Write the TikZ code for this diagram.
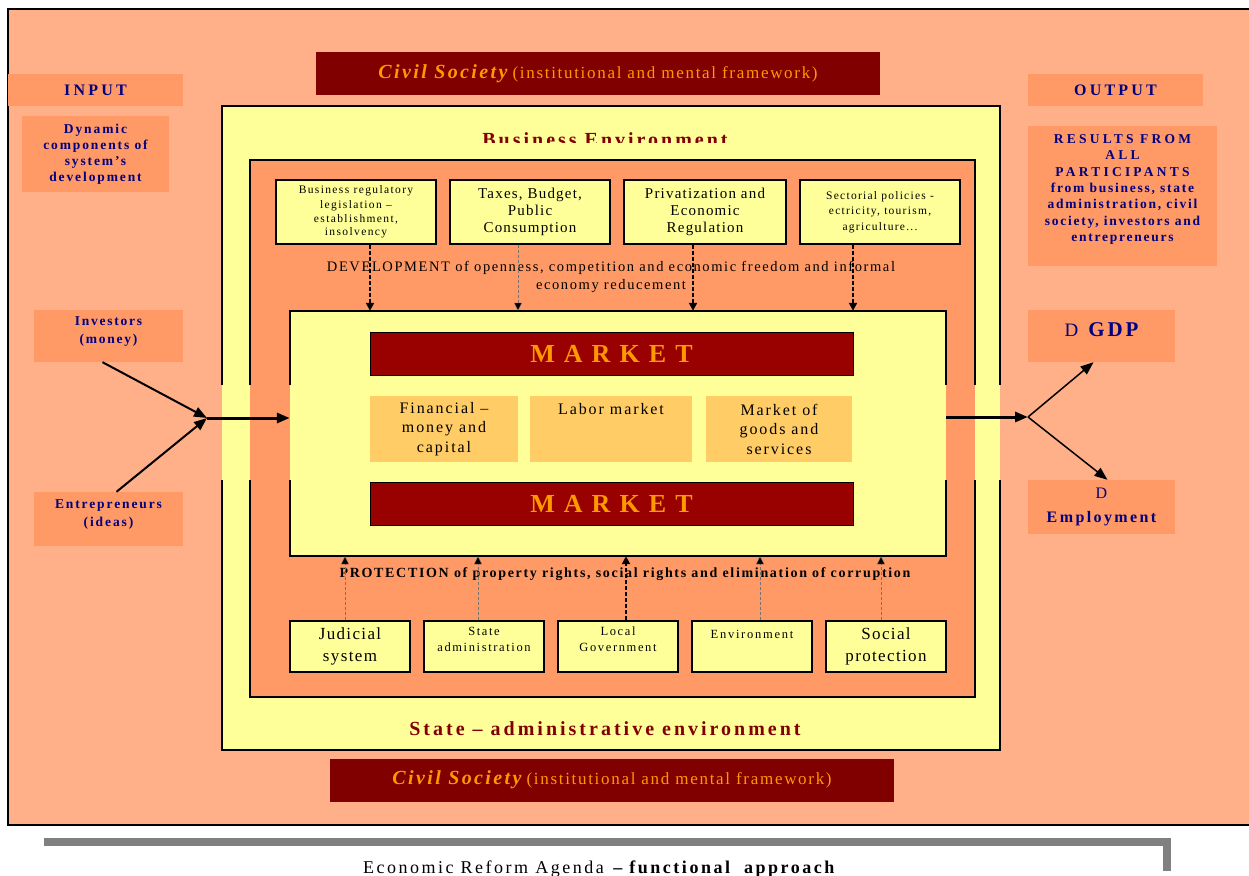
\documentclass[tikz,border=0pt]{standalone}
\usepackage{fontspec}
\setmainfont{Liberation Serif}
\usetikzlibrary{arrows.meta}

\definecolor{peach}{RGB}{255,176,136}
\definecolor{salmon}{RGB}{255,153,102}
\definecolor{paleyellow}{RGB}{255,255,153}
\definecolor{civilred}{RGB}{128,0,0}
\definecolor{marketred}{RGB}{153,0,0}
\definecolor{goldtext}{RGB}{255,153,0}
\definecolor{lightgold}{RGB}{255,204,102}
\definecolor{navytext}{RGB}{0,0,128}

\newcommand{\ls}[1]{\addfontfeatures{LetterSpace=#1}}
\newcommand{\fsz}[2]{\fontsize{#1}{#2}\selectfont}

\tikzset{
  frame/.style={line width=1.6pt},
  sidebox/.style={fill=salmon, text=navytext, align=center, inner sep=0pt},
  civilbar/.style={fill=civilred, text=goldtext, minimum width=564pt, minimum height=43pt, inner sep=0pt},
  envtitle/.style={text=civilred, font=\bfseries\fsz{20}{22}\ls{15}},
  topbox/.style={draw, line width=1.3pt, fill=paleyellow, align=center, minimum height=64pt, inner sep=0pt},
  basebox/.style={draw, line width=1.3pt, fill=paleyellow, align=center, minimum width=120pt, minimum height=51pt, inner sep=0pt},
  marketbar/.style={draw, line width=0.8pt, fill=marketred, text=goldtext, minimum width=483pt, minimum height=43pt,
    font=\bfseries\fsz{26}{28}\ls{10}},
  subbox/.style={fill=lightgold, align=center, minimum height=66pt, inner sep=0pt, font=\fsz{16}{19.5}\ls{12}},
  strong/.style={line width=2.6pt, dash pattern=on 4pt off 2pt, -{Triangle[length=8pt,width=8pt]}},
  faint/.style={line width=0.4pt, draw=black!55, dash pattern=on 3pt off 2pt, -{Triangle[length=8pt,width=8pt,fill=black]}},
  flow/.style={line width=2pt, -{Triangle[length=13pt,width=10pt]}},
}

\begin{document}
\begin{tikzpicture}[x=1pt,y=-1pt]
  \useasboundingbox (0,0) rectangle (1249,875);
  \clip (0,0) rectangle (1249,875);

  % outer frame
  \fill[peach] (8,9) rectangle (1262,825);
  \draw[line width=2pt] (8,9) rectangle (1262,825);

  % caption
  \draw[line width=8pt, black!50] (44,842) -- (1167,842) -- (1167,871);
  \node[anchor=base, font=\fsz{18}{19}\ls{14}] (caption) at (600,873)
    {Economic Reform Agenda \textbf{– functional\ \ approach}};

  % civil society
  \node[civilbar] (civiltop) at (598,73.5)
    {{\bfseries\itshape\fsz{20}{22}\ls{12}Civil Society}\ \ {\fsz{17}{18}\ls{10}(institutional and mental framework)}};
  \node[civilbar] (civilbot) at (612,780)
    {{\bfseries\itshape\fsz{20}{22}\ls{12}Civil Society}\ \ {\fsz{17}{18}\ls{10}(institutional and mental framework)}};

  % business environment
  \fill[paleyellow] (222,106) rectangle (1000,750);
  \draw[frame] (222,385) |- (1000,106) -- (1000,385);
  \draw[frame] (222,480) |- (1000,750) -- (1000,480);
  \begin{scope}
    \clip (222,106) rectangle (1000,142);
    \node[envtitle, anchor=base] (bizenv) at (605,146) {Business Environment};
  \end{scope}

  % inner orange
  \fill[salmon] (250,160) rectangle (975,697);
  \draw[frame] (250,385) |- (975,160) -- (975,385);
  \draw[frame] (250,480) |- (975,697) -- (975,480);
  \node[envtitle, anchor=base] (stateenv) at (605,735) {State – administrative environment};

  % policy boxes
  \node[topbox, minimum width=160pt, font=\fsz{11.5}{13.5}\ls{12}] (regbox) at (356,212)
    {Business regulatory\\[1.5pt]legislation –\\establishment,\\insolvency};
  \node[topbox, minimum width=160pt, font=\fsz{15}{17}\ls{8}] (taxbox) at (530,212)
    {Taxes, Budget,\\Public\\Consumption};
  \node[topbox, minimum width=162pt, font=\fsz{15}{17}\ls{8}] (privbox) at (705,212)
    {Privatization and\\Economic\\Regulation};
  \node[topbox, minimum width=160pt, font=\fsz{11.5}{15.5}\ls{11}] (sectbox) at (880,212)
    {Sectorial policies -\\ectricity, tourism,\\agriculture...};

  \node[align=center, font=\fsz{14.5}{18}\ls{11}] (develop) at (611,277)
    {DEVELOPMENT of openness, competition and economic freedom and informal\\economy reducement};

  % market
  \node[fill=paleyellow, minimum width=656pt, minimum height=245pt, inner sep=0pt] (market) at (618,433.5) {};
  \draw[frame] (290,385) |- (946,311) -- (946,385);
  \draw[frame] (290,480) |- (946,556) -- (946,480);
  \node[marketbar] (markettop) at (611.5,354) {M A R K E T};
  \node[marketbar] (marketbot) at (611.5,503.5) {M A R K E T};
  \node[subbox, minimum width=148pt] (finbox) at (444,429) {Financial –\\money and\\capital};
  \node[subbox, minimum width=162pt, text depth=40pt] (laborbox) at (611,429) {Labor market};
  \node[subbox, minimum width=146pt] (goodsbox) at (779,429) {Market of\\goods and\\services};

  \draw[strong] ([xshift=14pt]regbox.south) -- ([xshift=14pt]regbox.south |- market.north);
  \draw[faint] ([xshift=-12pt]taxbox.south) -- ([xshift=-12pt]taxbox.south |- market.north);
  \draw[strong] ([xshift=-12pt]privbox.south) -- ([xshift=-12pt]privbox.south |- market.north);
  \draw[strong] ([xshift=-27pt]sectbox.south) -- ([xshift=-27pt]sectbox.south |- market.north);

  % state boxes
  \node[basebox, font=\fsz{17}{22}\ls{8}] (judbox) at (350,646.5) {Judicial\\system};
  \node[basebox, font=\fsz{12.5}{16}\ls{13}, text depth=14pt] (adminbox) at (484,646.5) {State\\administration};
  \node[basebox, font=\fsz{12.5}{16}\ls{13}, text depth=14pt] (localbox) at (618,646.5) {Local\\Government};
  \node[basebox, font=\fsz{12.5}{16}\ls{14}, text depth=24pt] (envbox) at (752,646.5) {Environment};
  \node[basebox, font=\fsz{17}{22}\ls{8}] (socbox) at (886,646.5) {Social\\protection};

  \node[font=\bfseries\fsz{14}{16}\ls{12}] (protect) at (625,574)
    {PROTECTION of property rights, social rights and elimination of corruption};

  \draw[faint] ([xshift=-5pt]judbox.north) -- ([xshift=-5pt]judbox.north |- market.south);
  \draw[faint] ([xshift=-6pt]adminbox.north) -- ([xshift=-6pt]adminbox.north |- market.south);
  \draw[strong] ([xshift=8pt]localbox.north) -- ([xshift=8pt]localbox.north |- market.south);
  \draw[faint] ([xshift=8pt]envbox.north) -- ([xshift=8pt]envbox.north |- market.south);
  \draw[faint] ([xshift=-5pt]socbox.north) -- ([xshift=-5pt]socbox.north |- market.south);

  % input side
  \node[sidebox, minimum width=175pt, minimum height=32pt, font=\bfseries\fsz{16}{18}\ls{20}] (input) at (95.5,90) {INPUT};
  \node[sidebox, minimum width=147pt, minimum height=76pt, font=\bfseries\fsz{13.5}{16}\ls{14}] (dynamic) at (95.5,154)
    {Dynamic\\components of\\system’s\\development};
  \node[sidebox, minimum width=149pt, minimum height=52pt, font=\bfseries\fsz{13.5}{18}\ls{13}, text depth=12pt] (investors) at (108.5,336)
    {Investors\\(money)};
  \node[sidebox, minimum width=149pt, minimum height=54pt, font=\bfseries\fsz{13.5}{18}\ls{14}, text depth=12pt] (entre) at (108.5,519)
    {Entrepreneurs\\(ideas)};
  \coordinate (join) at (207,418);
  \draw[flow] ([xshift=-6pt]investors.south) -- (join);
  \draw[flow] ([xshift=8pt]entre.north) -- (join);
  \draw[flow, line width=3pt] (join) -- (join -| market.west);

  % output side
  \node[sidebox, minimum width=175pt, minimum height=32pt, font=\bfseries\fsz{16}{18}\ls{20}] (output) at (1115.5,90) {OUTPUT};
  \node[sidebox, minimum width=189pt, minimum height=140pt, font=\bfseries\fsz{13.5}{16.3}\ls{13}, text depth=16pt] (results) at (1122.5,196)
    {{\ls{24}RESULTS FROM}\\{\ls{24}ALL}\\{\ls{24}PARTICIPANTS}\\from business, state\\administration, civil\\society, investors and\\entrepreneurs};
  \node[sidebox, minimum width=147pt, minimum height=52pt, text depth=12pt] (gdp) at (1101.5,336)
    {{\fsz{19}{20}D}\hspace{10pt}{\bfseries\fsz{21}{22}\ls{14}GDP}};
  \node[sidebox, minimum width=147pt, minimum height=54pt, font=\bfseries\fsz{16}{24}\ls{15}] (employ) at (1101.5,507)
    {{\mdseries D}\\Employment};
  \coordinate (fork) at (1028,417);
  \draw[flow, line width=3pt] (fork -| market.east) -- (fork);
  \draw[flow, line width=1.5pt] (fork) -- ([xshift=-8pt]gdp.south);
  \draw[flow, line width=1.5pt] (fork) -- ([xshift=6pt]employ.north);
\end{tikzpicture}
\end{document}
